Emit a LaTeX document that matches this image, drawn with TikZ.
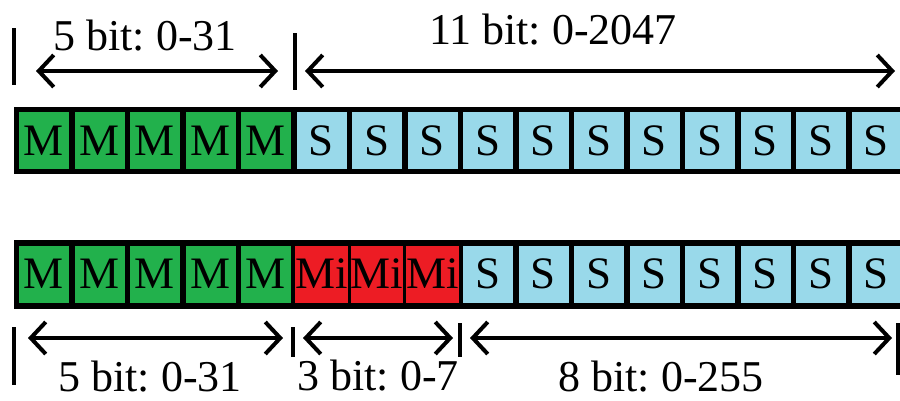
\documentclass[tikz,border=0pt]{standalone}
\usepackage{fontspec}
\setmainfont{Liberation Serif}
\frenchspacing
\usepackage{tikz}
\usetikzlibrary{arrows.meta,positioning}
\definecolor{mgreen}{RGB}{34,177,76}
\definecolor{mired}{RGB}{237,28,36}
\definecolor{sblue}{RGB}{153,217,234}
\tikzset{
  cell/.style={rectangle, inner sep=0pt, minimum width=50pt, minimum height=57pt, font=\fontsize{45}{48}\selectfont},
  mcell/.style={cell, fill=mgreen},
  micell/.style={cell, fill=mired},
  scell/.style={cell, fill=sblue},
  bar/.style={rectangle, fill=black, inner sep=0pt, anchor=north west, minimum width=896pt},
  tick/.style={line width=4pt},
  span/.style={{Straight Barb[length=15pt,width=32pt]}-{Straight Barb[length=15pt,width=32pt]}, line width=4pt},
  lbl/.style={font=\fontsize{44}{48}\selectfont, anchor=base, inner sep=0pt}
}

\begin{document}
\begin{tikzpicture}[x=1pt, y=-1pt]
  \path[use as bounding box, clip] (0,0) rectangle (900,400);
  \fill[white] (0,0) rectangle (900,400);

  % top word: 5 + 11 bits
  \node[bar, minimum height=67pt] (topbar) at (14,107) {};
  \foreach \i in {1,...,5}
    \node[mcell] (t\i) at ({44+55.5*(\i-1)},140.4) {M};
  \foreach \i in {6,...,16}
    \node[scell] (t\i) at ({44+55.5*(\i-1)},140.4) {S};

  % bottom word: 5 + 3 + 8 bits
  \node[bar, minimum height=69pt] (botbar) at (14,240) {};
  \foreach \i in {1,...,5}
    \node[mcell] (b\i) at ({44+55.5*(\i-1)},274) {M};
  \foreach \i in {6,...,8}
    \node[micell] (b\i) at ({44+55.5*(\i-1)},274) {Mi};
  \foreach \i in {9,...,16}
    \node[scell] (b\i) at ({44+55.5*(\i-1)},274) {S};

  % ticks
  \draw[tick] (14,28) -- (14,85);
  \draw[tick] (295,33) -- (295,90);
  \draw[tick] (14,327) -- (14,385);
  \draw[tick] (293,327) -- (293,357);
  \draw[tick] (460,323) -- (460,357);
  \draw[tick] (898,323) -- (898,375);

  % span arrows
  \coordinate (ta1) at (36,71);
  \coordinate (ta2) at (278,71);
  \coordinate (tb1) at (305,71);
  \coordinate (tb2) at (895,71);
  \coordinate (ba1) at (28,338);
  \coordinate (ba2) at (283,338);
  \coordinate (bb1) at (303,338);
  \coordinate (bb2) at (453,338);
  \coordinate (bc1) at (470,338);
  \coordinate (bc2) at (892,338);
  \draw[span] (ta1) -- (ta2);
  \draw[span] (tb1) -- (tb2);
  \draw[span] (ba1) -- (ba2);
  \draw[span] (bb1) -- (bb2);
  \draw[span] (bc1) -- (bc2);

  % labels
  \node[lbl] (tl1) at (145,50) {5 bit: 0-31};
  \node[lbl] (tl2) at (553,44) {11 bit: 0-2047};
  \node[lbl] (bl1) at (150,391) {5 bit: 0-31};
  \node[lbl] (bl2) at (378,390) {3 bit: 0-7};
  \node[lbl] (bl3) at (661,391) {8 bit: 0-255};
\end{tikzpicture}
\end{document}
